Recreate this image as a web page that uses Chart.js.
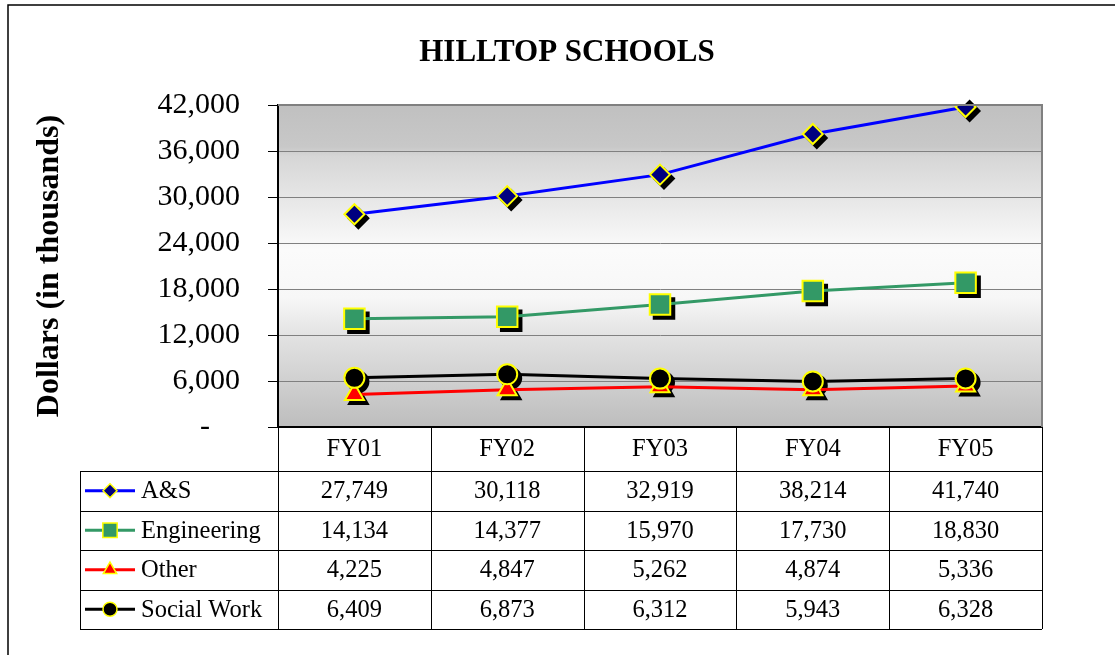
<!DOCTYPE html>
<html>
<head>
<meta charset="utf-8">
<script src="https://cdn.jsdelivr.net/npm/chart.js"></script>
<style>
  html, body { margin: 0; padding: 0; background: #fff; }
  #wrap { position: relative; width: 1115px; height: 655px; }
</style>
</head>
<body>
<div id="wrap"><canvas id="line-chart"></canvas></div>
<script>
// data
var years = ['FY01', 'FY02', 'FY03', 'FY04', 'FY05'];
var aands = [27749, 30118, 32919, 38214, 41740];
var engineering = [14134, 14377, 15970, 17730, 18830];
var other = [4225, 4847, 5262, 4874, 5336];
var socialWork = [6409, 6873, 6312, 5943, 6328];
var yMax = 42000;
var yStep = 6000;
var chartTitle = 'HILLTOP SCHOOLS';

var serif = '"Liberation Serif", "Times New Roman", serif';
var SHADOW = 4;

function fmt(v) {
  return v.toLocaleString('en-US');
}

// outer frame, title, gray-white-gray plot fill
var backdrop = {
  id: 'backdrop',
  beforeDraw: function (chart) {
    var ctx = chart.ctx, a = chart.chartArea;
    ctx.save();
    ctx.lineWidth = 1.5;
    ctx.strokeStyle = '#000';
    ctx.strokeRect(8, 5, 1300, 900);

    ctx.fillStyle = '#000';
    ctx.font = 'bold 31px ' + serif;
    ctx.textAlign = 'center';
    ctx.textBaseline = 'middle';
    ctx.fillText(chartTitle, 567, 53);

    var g = ctx.createLinearGradient(0, a.top, 0, a.bottom);
    g.addColorStop(0, '#c0c0c0');
    g.addColorStop(0.13, '#c8c8c8');
    g.addColorStop(0.16, '#d6d6d6');
    g.addColorStop(0.45, '#fbfbfb');
    g.addColorStop(0.6, '#f7f7f7');
    g.addColorStop(0.72, '#e2e2e2');
    g.addColorStop(1, '#bdbdbd');
    ctx.fillStyle = g;
    ctx.fillRect(a.left, a.top, a.right - a.left, a.bottom - a.top);
    ctx.restore();
  }
};

// black drop shadows under the markers
var markerShadow = {
  id: 'markerShadow',
  beforeDatasetsDraw: function (chart) {
    var ctx = chart.ctx;
    ctx.save();
    chart.getSortedVisibleDatasetMetas().slice().reverse().forEach(function (meta) {
      meta.data.forEach(function (pt) {
        var o = pt.options;
        ctx.fillStyle = '#000';
        ctx.strokeStyle = '#000';
        ctx.lineWidth = o.borderWidth;
        Chart.helpers.drawPoint(ctx, {
          pointStyle: o.pointStyle, rotation: o.rotation || 0,
          radius: o.radius, borderWidth: o.borderWidth
        }, pt.x + SHADOW, pt.y + SHADOW);
      });
    });
    ctx.restore();
  }
};

// plot border + data table underneath
var dataTable = {
  id: 'dataTable',
  afterDraw: function (chart) {
    var ctx = chart.ctx, a = chart.chartArea, xs = chart.scales.x;
    var half = (xs.getPixelForValue(1) - xs.getPixelForValue(0)) / 2;
    var headH = 44, rowH = 39.5, legLeft = 80;
    var top = a.bottom, rowsTop = top + headH;
    var rows = chart.data.datasets.length;
    var bottom = rowsTop + rows * rowH;

    ctx.save();
    // plot area border
    ctx.strokeStyle = '#808080';
    ctx.lineWidth = 2;
    ctx.beginPath();
    ctx.moveTo(a.left, a.top);
    ctx.lineTo(a.right, a.top);
    ctx.lineTo(a.right, a.bottom);
    ctx.stroke();

    ctx.strokeStyle = '#000';
    ctx.lineWidth = 1;
    ctx.beginPath();
    for (var k = 0; k <= years.length; k++) {
      var vx = Math.round(a.left + k * 2 * half) + 0.5;
      ctx.moveTo(vx, top);
      ctx.lineTo(vx, bottom);
    }
    ctx.moveTo(legLeft + 0.5, rowsTop);
    ctx.lineTo(legLeft + 0.5, bottom);
    for (var r = 0; r <= rows; r++) {
      var hy = Math.round(rowsTop + r * rowH) + 0.5;
      ctx.moveTo(legLeft, hy);
      ctx.lineTo(a.right, hy);
    }
    ctx.stroke();

    ctx.fillStyle = '#000';
    ctx.font = '24.5px ' + serif;
    ctx.textAlign = 'center';
    ctx.textBaseline = 'middle';
    years.forEach(function (y, i) {
      ctx.fillText(y, xs.getPixelForValue(i), top + headH / 2 + 1);
    });

    chart.data.datasets.forEach(function (ds, r) {
      var cy = rowsTop + r * rowH + rowH / 2 + 1;
      ctx.textAlign = 'center';
      ctx.fillStyle = '#000';
      ds.data.forEach(function (v, i) {
        ctx.fillText(fmt(v), xs.getPixelForValue(i), cy);
      });
      // legend key
      ctx.strokeStyle = ds.borderColor;
      ctx.lineWidth = 3;
      ctx.beginPath();
      ctx.moveTo(85, cy - 1);
      ctx.lineTo(135, cy - 1);
      ctx.stroke();
      ctx.fillStyle = ds.pointBackgroundColor;
      ctx.strokeStyle = ds.pointBorderColor;
      ctx.lineWidth = 1.5;
      Chart.helpers.drawPoint(ctx, {
        pointStyle: ds.pointStyle, rotation: 0,
        radius: ds.pointRadius * 0.7, borderWidth: 1.5
      }, 110, cy - 1);
      ctx.fillStyle = '#000';
      ctx.textAlign = 'left';
      ctx.fillText(ds.label, 141, cy);
    });
    ctx.restore();
  }
};

var series = [
  { label: 'A&S', data: aands, line: '#0000ff', fill: '#000080', style: 'rectRot', r: 10 },
  { label: 'Engineering', data: engineering, line: '#339966', fill: '#339966', style: 'rect', r: 14.5 },
  { label: 'Other', data: other, line: '#ff0000', fill: '#ff0000', style: 'triangle', r: 11 },
  { label: 'Social Work', data: socialWork, line: '#000000', fill: '#000000', style: 'circle', r: 10 }
];

new Chart(document.getElementById('line-chart'), {
  type: 'line',
  data: {
    labels: years,
    datasets: series.map(function (s, i) {
      return {
        label: s.label,
        data: s.data,
        borderColor: s.line,
        borderWidth: 3,
        fill: false,
        tension: 0,
        pointStyle: s.style,
        pointRadius: s.r,
        pointBackgroundColor: s.fill,
        pointBorderColor: '#ffff00',
        pointBorderWidth: 2,
        order: series.length - 1 - i
      };
    })
  },
  options: {
    responsive: true,
    maintainAspectRatio: false,
    animation: false,
    events: [],
    layout: { padding: { left: 0, right: 73, top: 105, bottom: 0 } },
    plugins: {
      legend: { display: false },
      tooltip: { enabled: false },
      title: { display: false }
    },
    scales: {
      x: {
        offset: true,
        grid: { display: false },
        border: { display: true, color: '#000', width: 2 },
        ticks: { display: false },
        afterFit: function (scale) { scale.height = 228; }
      },
      y: {
        min: 0,
        max: yMax,
        grid: { color: '#808080', lineWidth: 1, tickLength: 10, tickColor: '#000' },
        border: { color: '#000', width: 2 },
        ticks: {
          stepSize: yStep,
          color: '#000',
          padding: 28,
          font: { family: serif, size: 30 },
          callback: function (v) { return v === 0 ? '-    ' : fmt(v); }
        },
        title: {
          display: true,
          text: 'Dollars (in thousands)',
          color: '#000',
          font: { family: serif, size: 32, weight: 'bold' },
          padding: { top: 31, bottom: 0 }
        },
        afterFit: function (scale) { scale.width = 278; }
      }
    }
  },
  plugins: [backdrop, markerShadow, dataTable]
});
</script>
</body>
</html>
